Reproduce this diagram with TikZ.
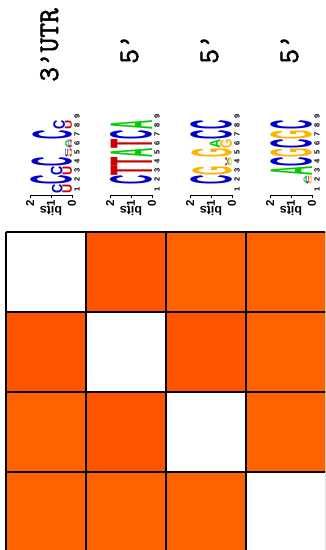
\documentclass[tikz,border=0pt]{standalone}
\usepackage{fontspec}
\setmainfont{Liberation Sans}
\newfontfamily\heavymono{Latin Modern Mono}[FakeBold=2]
\usepackage{graphicx}

\definecolor{colA}{HTML}{00CC00}
\definecolor{colC}{HTML}{0000CC}
\definecolor{colG}{HTML}{FFB300}
\definecolor{colU}{HTML}{CC0000}
\definecolor{colT}{HTML}{CC0000}
\definecolor{cellhi}{HTML}{FF5500}
\definecolor{celllo}{HTML}{FF6200}

\tikzset{
  nuc/.style={rotate=90,anchor=south,inner sep=0pt,outer sep=0pt},
  posnum/.style={rotate=90,inner sep=0pt,font=\bfseries\fontsize{7.5}{7.5}\selectfont},
  axnum/.style={rotate=90,inner sep=0pt,font=\bfseries\fontsize{11.5}{11.5}\selectfont},
  bitslabel/.style={rotate=180,inner sep=0pt,font=\bfseries\fontsize{12.5}{12.5}\selectfont},
  title/.style={rotate=90,anchor=base,inner sep=0pt},
  cell/.style={draw=black,line width=2pt}
}

\newlength\nuclen
% stretched letter: name, position, start (bits), height (bits), letter
\newcommand{\nuc}[5]{%
  \pgfmathsetlength\nuclen{#4*21pt}%
  \node[nuc,text=col#5] (#1) at ({-21*#3},{-9.1*(#2-1)}) {\resizebox{9.2pt}{\nuclen}{\bfseries #5}};}
% bits axis and position numbers of one logo
\newcommand{\bitsaxis}[1]{%
  \draw (0,6) -- (-42,6);
  \foreach \b in {0,1,2} {\draw (-21*\b,6) -- (-21*\b,9);
    \node[axnum] (#1ax\b) at (-21*\b,14) {\b};}
  \node[bitslabel] (#1bits) at (-21,22) {bits};
  \foreach \p in {1,...,9} \node[posnum] (#1p\p) at (5,{-9.1*(\p-1)}) {\p};}
\newcommand{\ttl}[1]{{\heavymono\fontsize{28.5}{28.5}\selectfont #1}}

\begin{document}
\begin{tikzpicture}[x=1pt,y=-1pt]
  \useasboundingbox (0,0) rectangle (325,550);
  \clip (0,0) rectangle (325,550);

  % titles
  \node[title] (t1) at (58,45) {\ttl{3’UTR}};
  \node[title] (t2) at (138,49) {\ttl{5’}};
  \node[title] (t3) at (218,49) {\ttl{5’}};
  \node[title] (t4) at (298,49) {\ttl{5’}};

  % logo 1
  \begin{scope}[shift={(72,189)}]
    \bitsaxis{a}
    \nuc{a1u}{1}{0}{0.45}{U} \nuc{a1c}{1}{0.45}{0.5}{C}
    \nuc{a2c}{2}{0}{1.95}{C}
    \nuc{a3u}{3}{0}{0.45}{U} \nuc{a3c}{3}{0.45}{0.55}{C}
    \nuc{a4c}{4}{0}{1.9}{C}
    \nuc{a5u}{5}{0}{0.1}{U} \nuc{a5g}{5}{0.1}{0.1}{G} \nuc{a5c}{5}{0.2}{0.12}{C}
    \nuc{a6u}{6}{0}{0.08}{U} \nuc{a6c}{6}{0.08}{0.1}{C} \nuc{a6a}{6}{0.18}{0.14}{A}
    \nuc{a7c}{7}{0}{1.85}{C}
    \nuc{a8u}{8}{0}{0.33}{U} \nuc{a8c}{8}{0.33}{0.55}{C}
  \end{scope}

  % logo 2
  \begin{scope}[shift={(152,189)}]
    \bitsaxis{b}
    \nuc{b2}{2}{0}{1.97}{C}
    \nuc{b3}{3}{0}{1.97}{T}
    \nuc{b4}{4}{0}{1.97}{T}
    \nuc{b5}{5}{0}{1.97}{A}
    \nuc{b6}{6}{0}{1.97}{T}
    \nuc{b7}{7}{0}{1.97}{C}
    \nuc{b8}{8}{0}{1.97}{A}
  \end{scope}

  % logo 3
  \begin{scope}[shift={(232,189)}]
    \bitsaxis{c}
    \nuc{c2c}{2}{0}{1.95}{C}
    \nuc{c3g}{3}{0}{1.85}{G}
    \nuc{c4g}{4}{0}{0.12}{G} \nuc{c4a}{4}{0.12}{0.1}{A} \nuc{c4u}{4}{0.22}{0.1}{U}
    \nuc{c5g}{5}{0}{1.9}{G}
    \nuc{c6g}{6}{0}{0.55}{G} \nuc{c6a}{6}{0.55}{0.5}{A}
    \nuc{c7c}{7}{0}{1.95}{C}
    \nuc{c8c}{8}{0}{1.95}{C}
  \end{scope}

  % logo 4
  \begin{scope}[shift={(312,189)}]
    \bitsaxis{d}
    \nuc{d2g}{2}{0}{0.15}{G} \nuc{d2c}{2}{0.15}{0.12}{C} \nuc{d2a}{2}{0.27}{0.13}{A}
    \nuc{d3a}{3}{0}{1.97}{A}
    \nuc{d4c}{4}{0}{1.95}{C}
    \nuc{d5g}{5}{0}{1.95}{G}
    \nuc{d6c}{6}{0}{1.95}{C}
    \nuc{d7g}{7}{0}{1.95}{G}
    \nuc{d8c}{8}{0}{1.95}{C}
  \end{scope}

  % matrix
  \begin{scope}[shift={(6,232)}]
    \fill[white]   (0,0) rectangle ++(80,80);
    \fill[cellhi]  (80,0) rectangle ++(80,80);
    \fill[celllo]  (160,0) rectangle ++(80,80);
    \fill[celllo]  (240,0) rectangle ++(80,80);
    \fill[cellhi]  (0,80) rectangle ++(80,80);
    \fill[white]   (80,80) rectangle ++(80,80);
    \fill[cellhi]  (160,80) rectangle ++(80,80);
    \fill[celllo]  (240,80) rectangle ++(80,80);
    \fill[celllo]  (0,160) rectangle ++(80,80);
    \fill[cellhi]  (80,160) rectangle ++(80,80);
    \fill[white]   (160,160) rectangle ++(80,80);
    \fill[celllo]  (240,160) rectangle ++(80,80);
    \fill[celllo]  (0,240) rectangle ++(80,80);
    \fill[celllo]  (80,240) rectangle ++(80,80);
    \fill[celllo]  (160,240) rectangle ++(80,80);
    \fill[white]   (240,240) rectangle ++(80,80);
    \foreach \k in {0,80,...,320} {
      \draw[cell] (\k,0) -- (\k,320);
      \draw[cell] (0,\k) -- (320,\k);
    }
  \end{scope}
\end{tikzpicture}
\end{document}
